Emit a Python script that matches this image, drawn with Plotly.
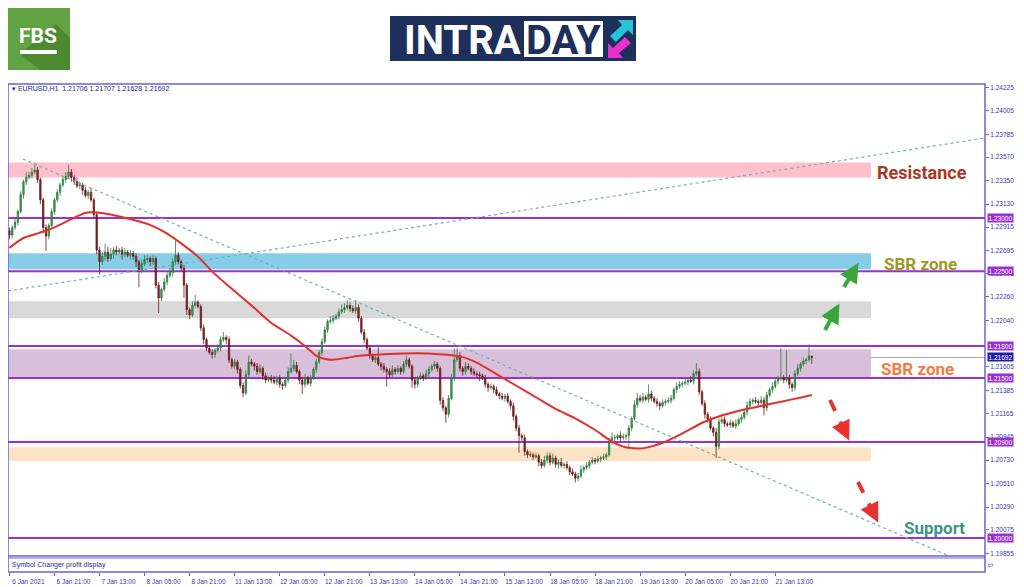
import plotly.graph_objects as go

# ---------------- data ----------------
time_labels = ["6 Jan 2021", "6 Jan 21:00", "7 Jan 13:00", "8 Jan 05:00", "8 Jan 21:00",
               "11 Jan 13:00", "12 Jan 05:00", "12 Jan 21:00", "13 Jan 13:00", "14 Jan 05:00",
               "14 Jan 21:00", "15 Jan 13:00", "18 Jan 05:00", "18 Jan 21:00", "19 Jan 13:00",
               "20 Jan 05:00", "20 Jan 21:00", "21 Jan 13:00"]
label_bars = [0, 16, 32, 48, 64, 80, 96, 112, 128, 144, 160, 176, 192, 208, 224, 240, 256, 272]

first_open = 1.2288
closes = [
    1.2284, 1.2291, 1.2296, 1.2306, 1.2322, 1.2334, 1.2338, 1.2340, 1.2343, 1.2345, 1.2336, 1.2317, 1.2291, 1.2283, 1.2293, 1.2306,
    1.2317, 1.2324, 1.2331, 1.2336, 1.2339, 1.2343, 1.2338, 1.2334, 1.2330, 1.2331, 1.2326, 1.2321, 1.2324, 1.2317, 1.2303, 1.2270,
    1.2259, 1.2264, 1.2268, 1.2262, 1.2266, 1.2270, 1.2268, 1.2270, 1.2266, 1.2268, 1.2265, 1.2267, 1.2264, 1.2259, 1.2251, 1.2257,
    1.2261, 1.2262, 1.2259, 1.2262, 1.2237, 1.2225, 1.2233, 1.2240, 1.2246, 1.2249, 1.2259, 1.2265, 1.2259, 1.2253, 1.2237, 1.2214,
    1.2209, 1.2218, 1.2221, 1.2217, 1.2197, 1.2186, 1.2178, 1.2174, 1.2172, 1.2176, 1.2178, 1.2186, 1.2188, 1.2186, 1.2167, 1.2161,
    1.2165, 1.2158, 1.2143, 1.2136, 1.2153, 1.2165, 1.2163, 1.2161, 1.2156, 1.2159, 1.2152, 1.2148, 1.2150, 1.2148, 1.2146, 1.2150,
    1.2144, 1.2143, 1.2148, 1.2156, 1.2159, 1.2162, 1.2156, 1.2148, 1.2144, 1.2150, 1.2145, 1.2150, 1.2158, 1.2165, 1.2174, 1.2184,
    1.2195, 1.2203, 1.2204, 1.2206, 1.2208, 1.2212, 1.2214, 1.2216, 1.2218, 1.2215, 1.2213, 1.2216, 1.2206, 1.2193, 1.2186, 1.2178,
    1.2171, 1.2167, 1.2169, 1.2163, 1.2161, 1.2158, 1.2156, 1.2153, 1.2158, 1.2156, 1.2159, 1.2156, 1.2163, 1.2167, 1.2161, 1.2148,
    1.2144, 1.2150, 1.2152, 1.2150, 1.2154, 1.2158, 1.2161, 1.2163, 1.2159, 1.2129, 1.2122, 1.2116, 1.2131, 1.2150, 1.2167, 1.2171,
    1.2159, 1.2156, 1.2161, 1.2159, 1.2156, 1.2154, 1.2153, 1.2152, 1.2150, 1.2144, 1.2141, 1.2142, 1.2139, 1.2135, 1.2133, 1.2131,
    1.2133, 1.2128, 1.2124, 1.2114, 1.2103, 1.2096, 1.2094, 1.2081, 1.2078, 1.2078, 1.2076, 1.2077, 1.2071, 1.2068, 1.2073, 1.2077,
    1.2071, 1.2075, 1.2069, 1.2071, 1.2068, 1.2069, 1.2066, 1.2062, 1.2060, 1.2056, 1.2058, 1.2064, 1.2066, 1.2068, 1.2071, 1.2073,
    1.2072, 1.2074, 1.2075, 1.2076, 1.2078, 1.2090, 1.2094, 1.2094, 1.2096, 1.2094, 1.2095, 1.2096, 1.2103, 1.2112, 1.2125, 1.2131,
    1.2129, 1.2132, 1.2130, 1.2135, 1.2131, 1.2128, 1.2126, 1.2124, 1.2127, 1.2128, 1.2129, 1.2131, 1.2139, 1.2142, 1.2144, 1.2145,
    1.2146, 1.2148, 1.2147, 1.2154, 1.2156, 1.2137, 1.2126, 1.2116, 1.2111, 1.2103, 1.2099, 1.2086, 1.2109, 1.2111, 1.2107, 1.2106,
    1.2108, 1.2105, 1.2107, 1.2111, 1.2113, 1.2118, 1.2124, 1.2128, 1.2129, 1.2128, 1.2127, 1.2129, 1.2122, 1.2134, 1.2139, 1.2142,
    1.2147, 1.2149, 1.2150, 1.2148, 1.2150, 1.2144, 1.2141, 1.2154, 1.2159, 1.2163, 1.2166, 1.2167, 1.21706, 1.21692,
]
# wick lengths beyond the body, in pips
upper_wick = [
    3, 2, 4, 2, 3, 2, 5, 3, 4, 7, 3, 2, 2, 3, 2, 3,
    2, 3, 2, 3, 4, 7, 3, 2, 4, 3, 2, 3, 2, 4, 2, 3,
    3, 4, 8, 5, 6, 3, 4, 2, 3, 4, 2, 3, 2, 3, 2, 4,
    4, 3, 2, 3, 2, 3, 2, 4, 3, 4, 3, 15, 3, 2, 3, 2,
    2, 4, 7, 2, 2, 3, 2, 2, 3, 2, 4, 3, 5, 2, 3, 2,
    3, 2, 2, 3, 4, 6, 3, 2, 3, 4, 2, 3, 2, 3, 4, 2,
    3, 2, 3, 4, 14, 5, 3, 2, 3, 4, 2, 3, 2, 3, 2, 3,
    3, 2, 4, 3, 2, 3, 5, 4, 5, 3, 3, 7, 3, 2, 3, 2,
    3, 2, 3, 10, 2, 3, 2, 3, 4, 2, 3, 2, 3, 4, 2, 2,
    3, 2, 3, 2, 4, 3, 2, 3, 2, 2, 3, 2, 3, 4, 11, 7,
    3, 2, 4, 3, 2, 3, 2, 3, 2, 3, 2, 3, 2, 3, 2, 3,
    2, 3, 2, 3, 2, 3, 2, 3, 2, 3, 2, 3, 2, 3, 4, 3,
    3, 4, 2, 3, 4, 2, 3, 2, 3, 2, 3, 4, 2, 3, 2, 3,
    2, 3, 2, 3, 2, 4, 5, 3, 2, 4, 3, 2, 3, 2, 4, 5,
    3, 4, 2, 9, 3, 2, 3, 2, 3, 2, 3, 3, 2, 4, 3, 2,
    3, 2, 4, 3, 8, 3, 2, 3, 2, 3, 2, 4, 3, 5, 3, 2,
    3, 2, 4, 2, 3, 2, 4, 3, 2, 3, 2, 4, 3, 3, 2, 4,
    3, 3, 28, 3, 26, 3, 2, 3, 4, 2, 3, 2, 11, 0,
]
lower_wick = [
    4, 3, 2, 3, 2, 4, 3, 2, 3, 2, 3, 4, 5, 14, 3, 2,
    3, 2, 3, 2, 3, 2, 4, 3, 2, 3, 4, 2, 3, 2, 3, 4,
    12, 3, 4, 3, 2, 4, 3, 2, 5, 3, 2, 4, 3, 5, 16, 3,
    2, 3, 4, 3, 3, 14, 3, 2, 3, 2, 4, 3, 2, 3, 12, 5,
    4, 2, 3, 2, 3, 4, 3, 2, 4, 3, 2, 3, 2, 4, 3, 2,
    3, 4, 3, 4, 2, 3, 2, 4, 3, 2, 4, 3, 2, 3, 2, 3,
    3, 4, 2, 3, 2, 3, 2, 4, 9, 3, 2, 3, 2, 3, 2, 3,
    2, 3, 2, 3, 2, 3, 2, 3, 2, 3, 2, 3, 3, 2, 3, 2,
    3, 2, 3, 2, 4, 3, 14, 3, 2, 3, 2, 3, 2, 3, 2, 7,
    4, 3, 2, 3, 2, 3, 2, 3, 3, 4, 3, 8, 3, 2, 3, 2,
    3, 4, 3, 2, 3, 2, 3, 5, 2, 3, 4, 2, 3, 2, 3, 2,
    3, 2, 3, 4, 3, 16, 3, 4, 3, 2, 3, 2, 4, 3, 2, 3,
    3, 2, 3, 4, 2, 3, 2, 3, 2, 4, 3, 2, 3, 2, 3, 2,
    3, 2, 3, 2, 3, 2, 3, 4, 2, 3, 2, 3, 11, 3, 2, 3,
    2, 3, 2, 3, 3, 2, 3, 4, 2, 3, 2, 3, 2, 3, 2, 3,
    2, 3, 2, 3, 2, 3, 2, 4, 3, 2, 4, 11, 3, 2, 3, 2,
    3, 2, 3, 2, 3, 2, 3, 2, 3, 2, 3, 2, 7, 3, 2, 3,
    2, 3, 2, 3, 2, 4, 4, 3, 2, 3, 2, 3, 2, 6,
]

ma_bars = [0, 4.8, 10.5, 14, 19, 23.6, 27.2, 34.3, 41.4, 49.5, 55.6, 61.6, 67.3, 72.3,
           79.3, 86.4, 92.8, 99.9, 104.5, 109.5, 114.1, 120.1, 124.8, 131.9, 140, 148.5, 154.2, 160.3,
           166.3, 173.4, 180.5, 187.6, 194.7, 201.1, 208.2, 214.2, 218.8, 224.8, 231.9, 239, 246.1, 253.2,
           260.3, 267.4, 274.5, 281.6, 285]
ma_values = [1.2272, 1.2281, 1.2286, 1.2289, 1.2295, 1.2301, 1.2305, 1.2304, 1.2300, 1.2294, 1.2286, 1.2275, 1.2263, 1.2249,
             1.2233, 1.2217, 1.2202, 1.2190, 1.2181, 1.2170, 1.2167, 1.2169, 1.2171, 1.2172, 1.2173, 1.2173, 1.2172, 1.2170,
             1.2164, 1.2153, 1.2142, 1.2131, 1.2120, 1.2112, 1.2101, 1.2090, 1.2085, 1.2084, 1.2089, 1.2098, 1.2108, 1.2115,
             1.2120, 1.2124, 1.2128, 1.2132, 1.2134]

levels = [1.23000, 1.22500, 1.21800, 1.21500, 1.20900, 1.20000]
last_price = 1.21692
header = "EURUSD,H1  1.21706 1.21707 1.21628 1.21692"

zone_low = [1.2338, 1.2252, 1.2206, 1.2151, 1.2072]
zone_high = [1.2352, 1.2267, 1.2222, 1.2177, 1.2085]
zone_end_bar = 306

trend_down_bars = [4.8, 333]
trend_down_prices = [1.23553, 1.19841]
trend_up_bars = [-0.5, 346.5]
trend_up_prices = [1.22316, 1.23750]

price_ticks = [1.24225, 1.24005, 1.23785, 1.23570, 1.23350, 1.23130, 1.22915, 1.22695, 1.22475,
               1.22260, 1.22040, 1.21605, 1.21385, 1.21165, 1.20945, 1.20730, 1.20510,
               1.20290, 1.20075, 1.19855]

# ---------------- layout helpers (pixel -> paper) ----------------
W, H = 1024, 587
BODY = 8          # the html page keeps an 8px body margin
PL, PR, PT, PB = 8, 985, 84, 572
MAIN_BOTTOM = 556
FRAME = "#6d5fdc"
AXIS_TXT = "#3b35b0"


def px(x):
    return (x - PL) / (PR - PL)


def py(y):
    return (PB - y) / (PB - PT)


def label(x, y, text, size, color, family="Roboto", xanchor="center"):
    return dict(xref="paper", yref="paper", x=px(x), y=py(y), xanchor=xanchor, yanchor="middle",
                text=text, showarrow=False, font=dict(family=family, size=size, color=color))


opens = [first_open] + closes[:-1]
highs = [max(o, c) + u * 0.0001 for o, c, u in zip(opens, closes, upper_wick)]
lows = [min(o, c) - d * 0.0001 for o, c, d in zip(opens, closes, lower_wick)]
bars = list(range(len(closes)))

fig = go.Figure()
fig.add_trace(go.Candlestick(
    x=bars, open=opens, high=highs, low=lows, close=closes,
    increasing=dict(line=dict(color="#2f7a3c", width=0.8), fillcolor="#3d9a4e"),
    decreasing=dict(line=dict(color="#6a1b1b", width=0.8), fillcolor="#7f2525"),
    showlegend=False, hoverinfo="skip"))
fig.add_trace(go.Scatter(x=ma_bars, y=ma_values, mode="lines", showlegend=False, hoverinfo="skip",
                         line=dict(color="#e2302b", width=2, shape="spline", smoothing=0.6)))
for tb, tp in [(trend_down_bars, trend_down_prices), (trend_up_bars, trend_up_prices)]:
    fig.add_trace(go.Scatter(x=tb, y=tp, mode="lines", showlegend=False, hoverinfo="skip",
                             line=dict(color="#6fb3b3", width=1.2, dash="dot")))

shapes = []
zone_colors = ["#ffc0cb", "#87cdea", "#d9d9d9", "#d8c0da", "#fde3c6"]
for lo, hi, col in zip(zone_low, zone_high, zone_colors):
    shapes.append(dict(type="rect", xref="x", yref="y", x0=-0.5, x1=zone_end_bar, y0=lo, y1=hi,
                       fillcolor=col, line=dict(width=0), layer="below"))
shapes.append(dict(type="line", xref="paper", yref="y", x0=0, x1=1, y0=last_price, y1=last_price,
                   line=dict(color="#a8a8a8", width=1), layer="below"))
for lv in levels:
    shapes.append(dict(type="line", xref="paper", yref="y", x0=0, x1=1, y0=lv, y1=lv,
                       line=dict(color="#9b2fd0", width=2), layer="below"))
# chart frame and sub window
shapes.append(dict(type="rect", xref="paper", yref="paper", x0=0, x1=1, y0=0, y1=1,
                   line=dict(color=FRAME, width=1.5)))
shapes.append(dict(type="line", xref="paper", yref="paper", x0=0, x1=1, y0=py(MAIN_BOTTOM), y1=py(MAIN_BOTTOM),
                   line=dict(color=FRAME, width=1.5)))
shapes.append(dict(type="line", xref="paper", yref="paper", x0=0, x1=1, y0=py(558), y1=py(558),
                   line=dict(color=FRAME, width=1)))

# forecast arrows (dashed shafts + heads)
arrows = [((825, 330), (837, 308), "#3aa63a"), ((844, 287), (856, 267), "#3aa63a"),
          ((830, 400), (847, 436), "#e8322f"), ((858, 482), (876, 518), "#e8322f")]
annotations = []
for (x0, y0), (x1, y1), col in arrows:
    shapes.append(dict(type="line", xref="paper", yref="paper", x0=px(x0), y0=py(y0), x1=px(x1), y1=py(y1),
                       line=dict(color=col, width=4, dash="dash")))
    dx, dy = x1 - x0, y1 - y0
    n = (dx * dx + dy * dy) ** 0.5
    annotations.append(dict(xref="paper", yref="paper", x=px(x1 + dx / n * 5), y=py(y1 + dy / n * 5),
                            ax=-dx / n * 9, ay=-dy / n * 9, text="", showarrow=True,
                            arrowhead=2, arrowsize=1.3, arrowwidth=3, arrowcolor=col))

# logos
shapes.append(dict(type="rect", xref="paper", yref="paper", x0=px(5), x1=px(70), y0=py(70), y1=py(5),
                   fillcolor="#62a341", line=dict(width=0)))


def poly(points, color):
    d = "M " + " L ".join("%f,%f" % (px(a), py(b)) for a, b in points) + " Z"
    return dict(type="path", xref="paper", yref="paper", path=d, fillcolor=color, line=dict(width=0))


shapes.append(poly([(56, 24), (70, 38), (70, 70), (40, 70), (20, 54)], "#4d8a2f"))
shapes.append(dict(type="rect", xref="paper", yref="paper", x0=px(20), x1=px(57), y0=py(54), y1=py(50),
                   fillcolor="white", line=dict(width=0)))
shapes.append(dict(type="rect", xref="paper", yref="paper", x0=px(390), x1=px(636), y0=py(61), y1=py(16),
                   fillcolor="#1d2f5b", line=dict(width=0)))
shapes.append(dict(type="rect", xref="paper", yref="paper", x0=px(524), x1=px(603), y0=py(57), y1=py(21),
                   fillcolor="white", line=dict(width=0)))
shapes.append(poly([(618, 20), (633, 20), (633, 35), (628, 30), (616, 42), (610, 36), (622, 25)], "#27c4d6"))
shapes.append(poly([(623, 58), (608, 58), (608, 43), (613, 48), (625, 37), (631, 43), (619, 53)], "#ea2fcf"))

annotations += [
    label(38, 36, "<b>FBS</b>", 21, "white"),
    label(523, 40, "<b>INTRA</b>", 40, "white", xanchor="right"),
    label(563.5, 40, "<b>DAY</b>", 40, "#1d2f5b"),
    label(10, 89, "\u25be " + header, 7, "#23238a", family="Liberation Sans", xanchor="left"),
    label(10, 565, "Symbol Changer profit display", 7, "#2b2b9b", family="Liberation Sans", xanchor="left"),
    label(922, 172, "<b>Resistance</b>", 18, "#a8381e"),
    label(920, 264, "<b>SBR zone</b>", 17, "#9c9a1e"),
    label(917, 369, "<b>SBR zone</b>", 17, "#f47c3c"),
    label(934, 528, "<b>Support</b>", 17, "#3c9488"),
]
annotations.append(dict(xref="paper", yref="paper", x=px(990), y=py(565), xanchor="center", yanchor="middle",
                        text="0", textangle=-90, showarrow=False,
                        font=dict(family="Liberation Sans", size=6.5, color=AXIS_TXT)))
for lv in levels:
    annotations.append(dict(xref="paper", yref="y", x=px(987), y=lv, xanchor="left", yanchor="middle",
                            text="%.5f" % lv, showarrow=False, bgcolor="#9b2fd6", borderpad=0.5,
                            font=dict(family="Liberation Sans", size=6.5, color="white")))
annotations.append(dict(xref="paper", yref="y", x=px(987), y=last_price, xanchor="left", yanchor="middle",
                        text="%.5f" % last_price, showarrow=False, bgcolor="#1c1ca8", borderpad=0.5,
                        font=dict(family="Liberation Sans", size=6.5, color="white")))

fig.update_layout(
    width=W - BODY, height=H - BODY,
    margin=dict(l=PL - BODY, r=W - PR, t=PT - BODY, b=H - PB),
    paper_bgcolor="white", plot_bgcolor="white", showlegend=False,
    shapes=shapes, annotations=annotations,
)
fig.update_xaxes(range=[-0.5, 346.5], rangeslider_visible=False, showgrid=False, zeroline=False, showline=False,
                 anchor="free", position=0, tickvals=label_bars, ticktext=time_labels,
                 ticks="outside", ticklen=3, tickcolor=FRAME, ticklabelshift=19,
                 tickfont=dict(family="Liberation Sans", size=6.5, color=AXIS_TXT))
fig.update_yaxes(range=[1.19831, 1.24256], domain=[py(MAIN_BOTTOM), 1], side="right",
                 showgrid=False, zeroline=False, showline=False,
                 tickvals=price_ticks, ticktext=["%.5f" % t for t in price_ticks],
                 ticks="outside", ticklen=3, tickcolor=FRAME,
                 tickfont=dict(family="Liberation Sans", size=6.5, color=AXIS_TXT))

fig.write_html("out.html")
